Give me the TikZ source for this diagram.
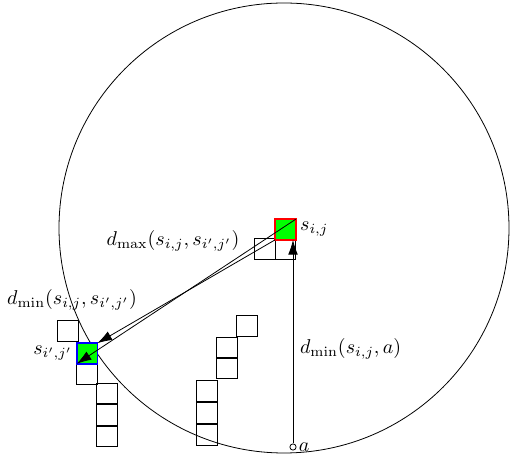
\documentclass[tikz,border=0pt]{standalone}
\usepackage{xcolor}
\usepackage{tikz}
\usetikzlibrary{arrows.meta, positioning}

\begin{document}
\begin{tikzpicture}[
                x=0.5pt, y=-0.5pt,
                cell/.style={draw, minimum size=10.3pt, inner sep=0pt, outer sep=0pt},
                hit/.style={cell, fill=green, thick},
                arrow/.style={-{Latex[length=2.6mm, width=1.7mm]}},
                point/.style={draw, circle, fill=white, inner sep=1.1pt}
            ]
                \useasboundingbox (0,0) rectangle (510,464);
                \draw (284,228) circle (112.5pt);

                % squares near s_{i,j}
                \node[cell] (r1) at (285.5,249.5) {};
                \node[cell] (r2) at (265,249) {};
                \node[hit, draw=red] (sij) at (285.5,229.5) {};

                % squares near s_{i',j'}
                \node[cell] (l1) at (68,331) {};
                \node[cell] (l2) at (87,374) {};
                \node[cell] (l3) at (107,393.5) {};
                \node[cell] (l4) at (107,415) {};
                \node[cell] (l5) at (107,436.5) {};
                \node[hit, draw=blue] (sij2) at (87,353.5) {};

                % squares in the middle
                \node[cell] (m1) at (247,326) {};
                \node[cell] (m2) at (227,347.5) {};
                \node[cell] (m3) at (227,368.5) {};
                \node[cell] (m4) at (207,391) {};
                \node[cell] (m5) at (207,413) {};
                \node[cell] (m6) at (207,435) {};

                \node[point] (a) at (293,447) {};
                \node[right=0pt of a, inner sep=1pt] (alabel) {$a$};

                \node[right=1pt of sij.east, inner sep=1pt] (sijlabel) {$s_{i,j}$};
                \node[left=1pt of sij2.west, inner sep=1pt] (sij2label) {$s_{i',j'}$};

                \node (dmax) at (173,241) {$d_{\max}(s_{i,j}, s_{i',j'})$};
                \node (dmin) at (72,300) {$d_{\min}(s_{i,j}, s_{i',j'})$};
                \node[anchor=west] (dmina) at (293,349) {$d_{\min}(s_{i,j}, a)$};

                \draw[arrow] (sij.north east) -- (sij2.south west);
                \draw[arrow] (sij.south west) -- (sij2.north east);
                \draw[arrow] (a) -- (a |- sij.south);
            \end{tikzpicture}
\end{document}
